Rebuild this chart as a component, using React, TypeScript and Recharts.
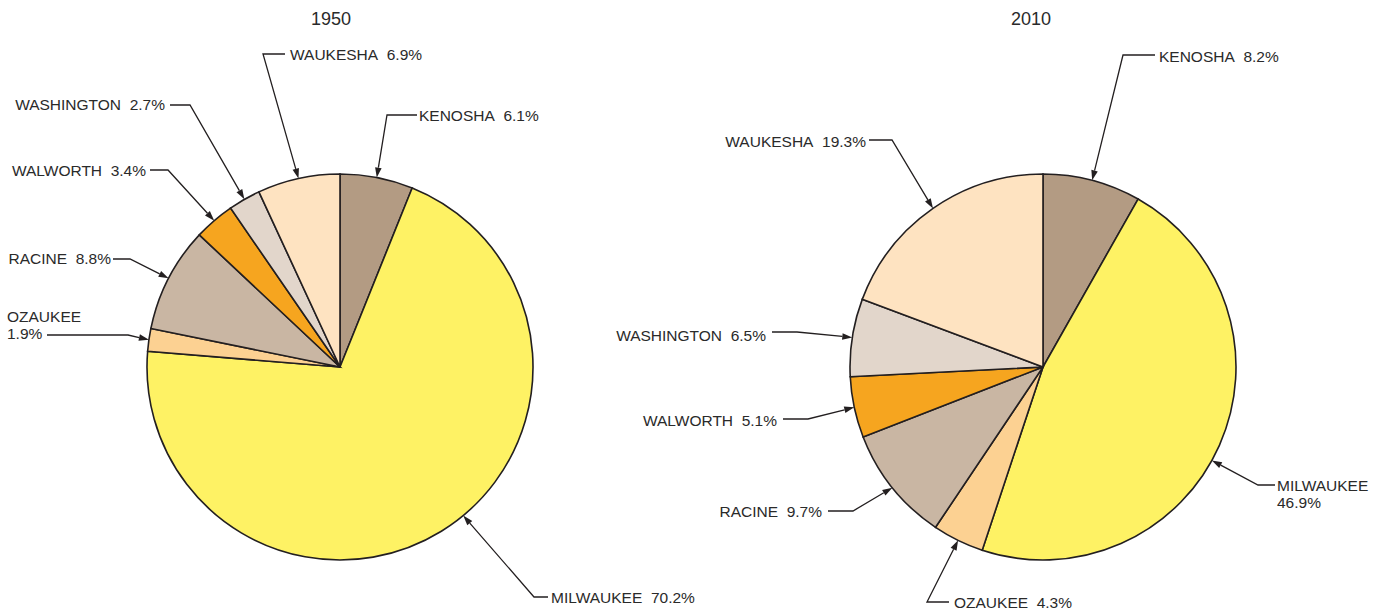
import React from 'react';
import { PieChart, Pie, Cell } from 'recharts';

const COUNTIES = ['KENOSHA', 'MILWAUKEE', 'OZAUKEE', 'RACINE', 'WALWORTH', 'WASHINGTON', 'WAUKESHA'];
const SHARE_1950 = [6.1, 70.2, 1.9, 8.8, 3.4, 2.7, 6.9];
const SHARE_2010 = [8.2, 46.9, 4.3, 9.7, 5.1, 6.5, 19.3];
const YEARS = ['1950', '2010'];
const COLORS = ['#b39b83', '#fef264', '#fcd192', '#c9b6a3', '#f6a51f', '#e2d6cb', '#fee3c1'];

const data1950 = COUNTIES.map((name, i) => ({ name, value: SHARE_1950[i] }));
const data2010 = COUNTIES.map((name, i) => ({ name, value: SHARE_2010[i] }));

// label layout: offsets relative to pie centre
type LabelLayout = {
  anchor: 'start' | 'end';
  tx: number;
  ty: number;
  two?: boolean;
  lx1: number;
  lx2: number;
  ly: number;
  tipOffset?: number;
};

const LAYOUT_1950: LabelLayout[] = [
  { anchor: 'start', tx: 79, ty: -246, lx1: 77, lx2: 47, ly: -252 },
  { anchor: 'start', tx: 211, ty: 236, lx1: 208, lx2: 194, ly: 230, tipOffset: 8 },
  { anchor: 'start', tx: -333, ty: -45, two: true, lx1: -293, lx2: -212, ly: -32 },
  { anchor: 'end', tx: -229, ty: -103, lx1: -227, lx2: -210, ly: -108 },
  { anchor: 'end', tx: -194, ty: -191, lx1: -190, lx2: -172, ly: -197 },
  { anchor: 'end', tx: -175, ty: -257, lx1: -170, lx2: -150, ly: -262 },
  { anchor: 'start', tx: -50, ty: -307, lx1: -55, lx2: -77, ly: -313 },
];

const LAYOUT_2010: LabelLayout[] = [
  { anchor: 'start', tx: 116, ty: -305, lx1: 112, lx2: 80, ly: -312 },
  { anchor: 'start', tx: 234, ty: 124, two: true, lx1: 232, lx2: 215, ly: 118, tipOffset: -5 },
  { anchor: 'start', tx: -89, ty: 241, lx1: -94, lx2: -116, ly: 235 },
  { anchor: 'end', tx: -221, ty: 150, lx1: -215, lx2: -190, ly: 144 },
  { anchor: 'end', tx: -266, ty: 59, lx1: -260, lx2: -235, ly: 52 },
  { anchor: 'end', tx: -277, ty: -26, lx1: -271, lx2: -246, ly: -35 },
  { anchor: 'end', tx: -177, ty: -220, lx1: -174, lx2: -151, ly: -227 },
];

const FONT = '"Liberation Sans", Arial, sans-serif';
const TEXT_COLOR = '#2a2a2a';
const LINE_COLOR = '#231f20';

function makeLabel(layout: LabelLayout[]) {
  return (p: any) => {
    const L = layout[p.index];
    if (!L) return null;
    const cx = Number(p.cx);
    const cy = Number(p.cy);
    const r = Number(p.outerRadius);
    const ang = ((Number(p.midAngle) + (L.tipOffset || 0)) * Math.PI) / 180;
    const tipX = cx + r * Math.cos(-ang);
    const tipY = cy + r * Math.sin(-ang);
    const sx = cx + L.lx1;
    const ex = cx + L.lx2;
    const ey = cy + L.ly;
    const dx = tipX - ex;
    const dy = tipY - ey;
    const len = Math.hypot(dx, dy) || 1;
    const ux = dx / len;
    const uy = dy / len;
    const ah = 10;
    const aw = 3.3;
    const bx = tipX - ux * ah;
    const by = tipY - uy * ah;
    const valueText = `${Number(p.value).toFixed(1)}%`;
    return (
      <g key={`lbl-${p.index}`}>
        <polyline
          points={`${sx},${ey} ${ex},${ey} ${bx},${by}`}
          fill="none"
          stroke={LINE_COLOR}
          strokeWidth={1.3}
        />
        <polygon
          points={`${tipX},${tipY} ${bx - uy * aw},${by + ux * aw} ${bx + uy * aw},${by - ux * aw}`}
          fill={LINE_COLOR}
          stroke="none"
        />
        {L.two ? (
          <text x={cx + L.tx} y={cy + L.ty} textAnchor={L.anchor} fill={TEXT_COLOR} fontSize={15.5} fontFamily={FONT}>
            <tspan x={cx + L.tx} y={cy + L.ty}>{p.name}</tspan>
            <tspan x={cx + L.tx} y={cy + L.ty + 17}>{valueText}</tspan>
          </text>
        ) : (
          <text x={cx + L.tx} y={cy + L.ty} textAnchor={L.anchor} fill={TEXT_COLOR} fontSize={15.5} fontFamily={FONT}>
            {`${p.name}\u00a0 ${valueText}`}
          </text>
        )}
      </g>
    );
  };
}

export default function App() {
  return (
    <div style={{ position: 'absolute', left: 0, top: 0, width: 1387, height: 611, background: '#ffffff' }}>
      <PieChart width={1387} height={611} margin={{ top: 0, right: 0, bottom: 0, left: 0 }}>
        <Pie
          data={data1950}
          dataKey="value"
          nameKey="name"
          cx={340}
          cy={367}
          outerRadius={193}
          startAngle={90}
          endAngle={-270}
          stroke={LINE_COLOR}
          strokeWidth={1.6}
          isAnimationActive={false}
          labelLine={false}
          label={makeLabel(LAYOUT_1950)}
        >
          {data1950.map((d, i) => (
            <Cell key={d.name} fill={COLORS[i]} />
          ))}
        </Pie>
        <Pie
          data={data2010}
          dataKey="value"
          nameKey="name"
          cx={1043}
          cy={367}
          outerRadius={193}
          startAngle={90}
          endAngle={-270}
          stroke={LINE_COLOR}
          strokeWidth={1.6}
          isAnimationActive={false}
          labelLine={false}
          label={makeLabel(LAYOUT_2010)}
        >
          {data2010.map((d, i) => (
            <Cell key={d.name} fill={COLORS[i]} />
          ))}
        </Pie>
      </PieChart>
      <svg width={1387} height={40} style={{ position: 'absolute', left: 0, top: 0, pointerEvents: 'none' }}>
        <text x={331} y={25} textAnchor="middle" fontSize={18} fontFamily={FONT} fill={TEXT_COLOR}>{YEARS[0]}</text>
        <text x={1031} y={25} textAnchor="middle" fontSize={18} fontFamily={FONT} fill={TEXT_COLOR}>{YEARS[1]}</text>
      </svg>
    </div>
  );
}
